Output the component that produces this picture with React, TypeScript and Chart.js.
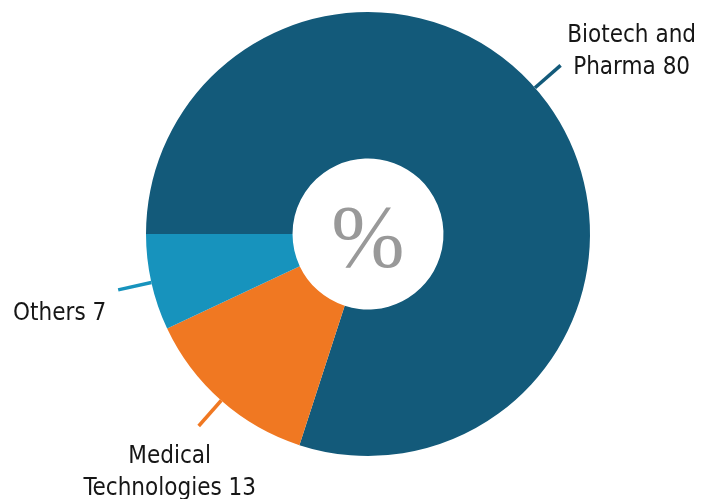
import React, { useEffect, useRef } from "react";
import { Chart, registerables } from "chart.js";

Chart.register(...registerables);

const categories: string[][] = [["Biotech and", "Pharma"], ["Medical", "Technologies"], ["Others"]];
const values: number[] = [80, 13, 7];
const sliceColors: string[] = ["#135a7a", "#f07822", "#1793bd"];
const centerText = "%";

// label styling (angle bias in degrees, block-center offset from leader end)
const labelStyle = [
  { bias: -5.2, dx: 71, dy: -13.5 },
  { bias: 0, dx: -29, dy: 47 },
  { bias: 0, dx: -58.5, dy: 23.5 },
];

const labelPlugin = {
  id: "donutLabels",
  afterDraw(chart: any) {
    const ctx = chart.ctx;
    const meta = chart.getDatasetMeta(0);
    const ds = chart.data.datasets[0];
    ctx.save();
    meta.data.forEach((arc: any, i: number) => {
      const p = arc.getProps(["x", "y", "startAngle", "endAngle", "outerRadius", "innerRadius"], true);
      const a = (p.startAngle + p.endAngle) / 2 + (labelStyle[i].bias * Math.PI) / 180;
      const r0 = p.outerRadius;
      const r1 = p.outerRadius + 34;
      const x0 = p.x + Math.cos(a) * r0;
      const y0 = p.y + Math.sin(a) * r0;
      const x1 = p.x + Math.cos(a) * r1;
      const y1 = p.y + Math.sin(a) * r1;
      ctx.strokeStyle = ds.backgroundColor[i];
      ctx.lineWidth = 3.5;
      ctx.lineCap = "butt";
      ctx.beginPath();
      ctx.moveTo(x0, y0);
      ctx.lineTo(x1, y1);
      ctx.stroke();

      const lines = [...chart.data.labels[i]];
      lines[lines.length - 1] = lines[lines.length - 1] + " " + ds.data[i];
      const lh = 32;
      const cx = x1 + labelStyle[i].dx;
      const cy = y1 + labelStyle[i].dy;
      ctx.fillStyle = "#161616";
      ctx.font = "24px 'DejaVu Sans Condensed', 'DejaVu Sans', sans-serif";
      ctx.textAlign = "center";
      ctx.textBaseline = "middle";
      lines.forEach((t: string, k: number) => {
        const yy = cy + (k - (lines.length - 1) / 2) * lh;
        ctx.fillText(t, cx, yy);
      });
    });
    // center text
    const first = meta.data[0];
    if (first) {
      ctx.fillStyle = "#999999";
      ctx.font = "88px 'Liberation Serif', serif";
      ctx.textAlign = "center";
      ctx.textBaseline = "middle";
      ctx.fillText(centerText, first.x, first.y + 9);
    }
    ctx.restore();
  },
};

export default function App() {
  const ref = useRef<HTMLCanvasElement | null>(null);
  useEffect(() => {
    document.body.style.margin = "0";
    if (!ref.current) return;
    const chart = new Chart(ref.current, {
      type: "doughnut",
      data: {
        labels: categories as any,
        datasets: [
          {
            data: values,
            backgroundColor: sliceColors,
            borderWidth: 0,
          },
        ],
      },
      options: {
        responsive: false,
        animation: false,
        rotation: -90,
        cutout: "34%",
        layout: { padding: { top: 12, bottom: 43, left: 146, right: 124 } },
        plugins: {
          legend: { display: false },
          tooltip: { enabled: false },
        },
      },
      plugins: [labelPlugin],
    });
    return () => chart.destroy();
  }, []);
  return (
    <div style={{ width: 714, height: 499, background: "#ffffff" }}>
      <canvas ref={ref} width={714} height={499} />
    </div>
  );
}
